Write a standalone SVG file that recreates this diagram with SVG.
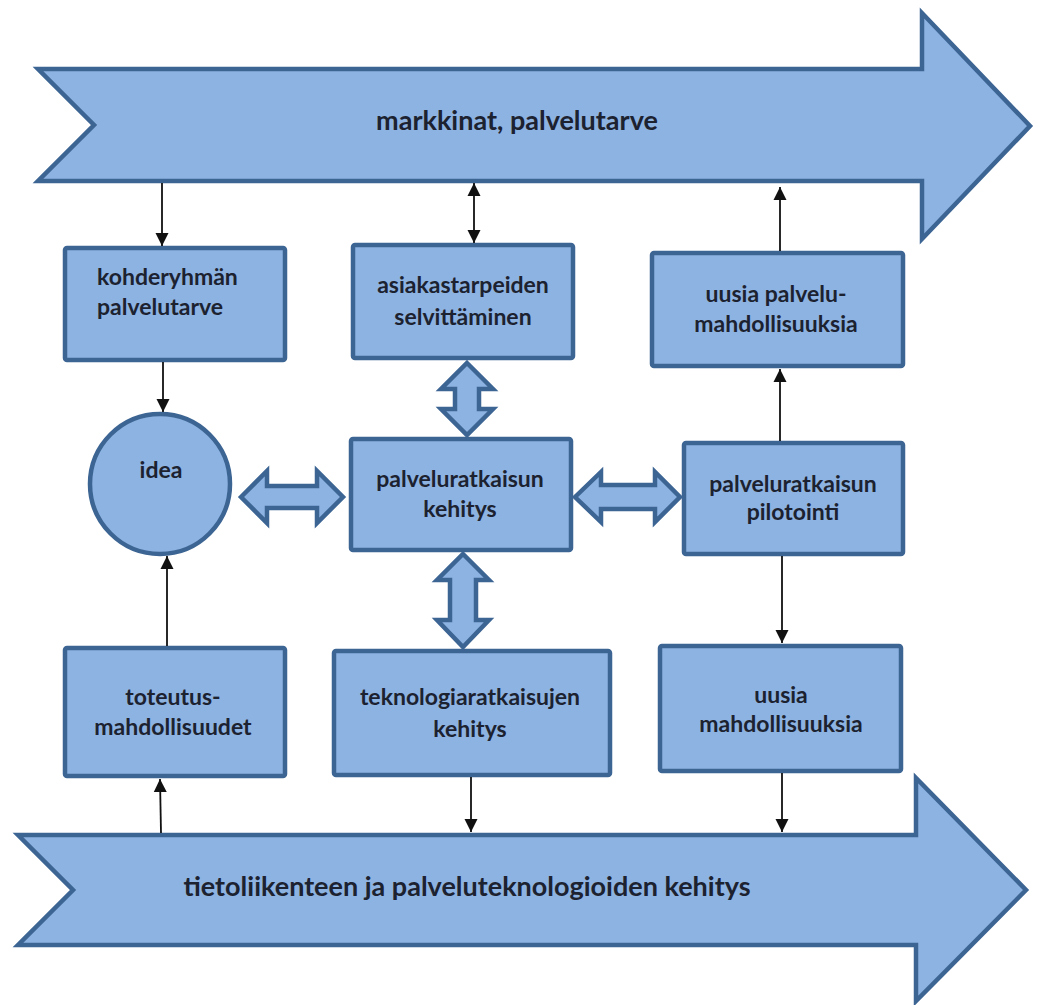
<svg xmlns="http://www.w3.org/2000/svg" width="1037" height="1005" viewBox="0 0 1037 1005">
  <style>
    .shape { fill: #8db3e2; stroke: #3d6594; stroke-width: 4.5; stroke-linejoin: miter; }
    .lbl { font-family: Lato, "Open Sans", "Liberation Sans", sans-serif; font-weight: bold; font-size: 23px; fill: #1c2230; text-anchor: middle; }
    .big { font-size: 27px; }
    .conn { stroke: #111; stroke-width: 1.8; fill: none; }
  </style>
  <defs>
    <marker id="ah" viewBox="0 0 10 10" refX="10" refY="5" markerWidth="13" markerHeight="14" markerUnits="userSpaceOnUse" orient="auto-start-reverse">
      <path d="M0,0 L10,5 L0,10 Z" fill="#111"/>
    </marker>
  </defs>
  <rect width="1037" height="1005" fill="#ffffff"/>

  <!-- broad process arrows -->
  <g id="markkinat">
    <path class="shape" d="M38,69 L922,69 L922,13 L1030,126 L922,239 L922,181 L38,181 L94,125 Z"/>
    <text class="lbl big" x="517" y="130">markkinat, palvelutarve</text>
  </g>
  <g id="tietoliikenne">
    <path class="shape" d="M18,835 L916,835 L916,778 L1026,890 L916,1001 L916,945 L18,945 L73,890 Z"/>
    <text class="lbl big" x="467" y="896">tietoliikenteen ja palveluteknologioiden kehitys</text>
  </g>

  <!-- nodes -->
  <g id="kohderyhma">
    <rect class="shape" x="65" y="248" width="220" height="112" rx="2"/>
    <text class="lbl" x="97" y="285" style="text-anchor:start">kohderyhmän</text>
    <text class="lbl" x="97" y="315" style="text-anchor:start">palvelutarve</text>
  </g>
  <g id="asiakastarpeet">
    <rect class="shape" x="353" y="245" width="220" height="113" rx="2"/>
    <text class="lbl" x="463" y="293">asiakastarpeiden</text>
    <text class="lbl" x="463" y="325">selvittäminen</text>
  </g>
  <g id="uusia-palvelu">
    <rect class="shape" x="652" y="253" width="251" height="113" rx="2"/>
    <text class="lbl" x="776" y="302">uusia palvelu-</text>
    <text class="lbl" x="776" y="332">mahdollisuuksia</text>
  </g>
  <g id="idea">
    <circle class="shape" cx="160" cy="484" r="70"/>
    <text class="lbl" x="161" y="478">idea</text>
  </g>
  <g id="kehitys">
    <rect class="shape" x="351" y="439" width="220" height="111" rx="2"/>
    <text class="lbl" x="460" y="487">palveluratkaisun</text>
    <text class="lbl" x="460" y="517">kehitys</text>
  </g>
  <g id="pilotointi">
    <rect class="shape" x="684" y="443" width="219" height="111" rx="2"/>
    <text class="lbl" x="793" y="492">palveluratkaisun</text>
    <text class="lbl" x="793" y="520">pilotointi</text>
  </g>
  <g id="toteutus">
    <rect class="shape" x="65" y="648" width="220" height="128" rx="2"/>
    <text class="lbl" x="173" y="705">toteutus-</text>
    <text class="lbl" x="173" y="735">mahdollisuudet</text>
  </g>
  <g id="teknologia">
    <rect class="shape" x="334" y="651" width="276" height="124" rx="2"/>
    <text class="lbl" x="470" y="705">teknologiaratkaisujen</text>
    <text class="lbl" x="470" y="737">kehitys</text>
  </g>
  <g id="uusia-mahd">
    <rect class="shape" x="660" y="646" width="241" height="125" rx="2"/>
    <text class="lbl" x="781" y="703">uusia</text>
    <text class="lbl" x="781" y="732">mahdollisuuksia</text>
  </g>

  <!-- connectors -->
  <g id="connectors">
    <!-- two-way block arrows around the development node -->
    <path class="shape" d="M241,497 L267,471 L267,486 L317,486 L317,471 L343,497 L317,523 L317,508 L267,508 L267,523 Z"/>
    <path class="shape" d="M575,497 L601,472 L601,485 L655,485 L655,472 L680,497 L655,522 L655,509 L601,509 L601,522 Z"/>
    <path class="shape" d="M467,363 L493,389 L479,389 L479,409 L493,409 L467,435 L441,409 L455,409 L455,389 L441,389 Z"/>
    <path class="shape" d="M463,554 L489,580 L476,580 L476,620 L489,620 L463,647 L437,620 L450,620 L450,580 L437,580 Z"/>

    <!-- thin arrows -->
    <path class="conn" d="M162,183 L162,246" marker-end="url(#ah)"/>
    <path class="conn" d="M163,362 L163,412" marker-end="url(#ah)"/>
    <path class="conn" d="M167,646 L167,556" marker-end="url(#ah)"/>
    <path class="conn" d="M161,833 L160,779" marker-end="url(#ah)"/>
    <path class="conn" d="M474,183 L474,243" marker-start="url(#ah)" marker-end="url(#ah)"/>
    <path class="conn" d="M780,251 L780,187" marker-end="url(#ah)"/>
    <path class="conn" d="M780,441 L780,369" marker-end="url(#ah)"/>
    <path class="conn" d="M782,556 L782,643" marker-end="url(#ah)"/>
    <path class="conn" d="M782,773 L782,832" marker-end="url(#ah)"/>
    <path class="conn" d="M471,777 L471,832" marker-end="url(#ah)"/>
  </g>
</svg>
